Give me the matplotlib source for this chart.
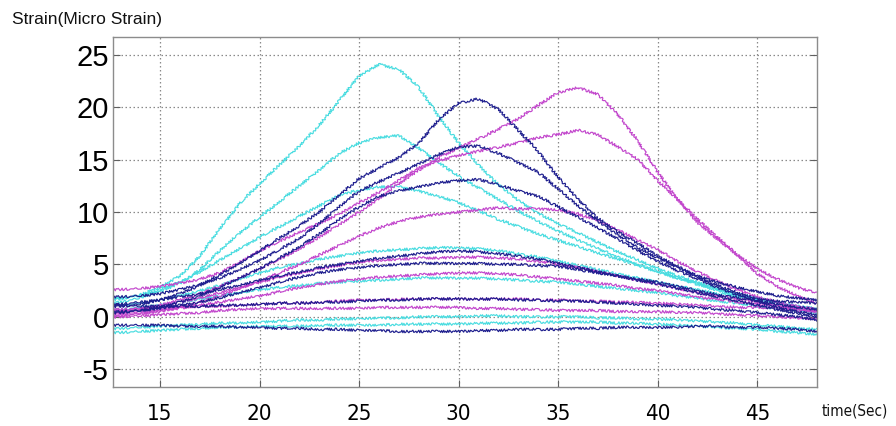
import matplotlib
matplotlib.use("Agg")
import matplotlib.pyplot as plt
from matplotlib import font_manager

# ---------------- data ----------------
TIME = [12, 13, 14, 15, 16, 17, 18, 19, 20, 21, 22, 23, 24, 25, 26, 27, 28, 29, 30,
        31, 32, 33, 34, 35, 36, 37, 38, 39, 40, 41, 42, 43, 44, 45, 46, 47, 48]

# cyan gauges
C1 = [1.5, 1.7, 2.1, 2.8, 3.9, 5.8, 8.4, 10.8, 12.7, 14.5, 16.3, 18.3, 20.6, 23.0, 24.1, 23.6, 21.9, 19.1, 16.6,
      14.5, 12.6, 11.1, 9.9, 8.9, 8.0, 7.1, 6.2, 5.4, 4.6, 3.9, 3.3, 2.7, 2.2, 1.8, 1.4, 1.0, 0.7]
C2 = [1.6, 1.8, 2.0, 2.4, 3.2, 4.5, 6.3, 8.0, 9.5, 11.0, 12.5, 14.0, 15.6, 16.6, 17.1, 17.3, 16.1, 14.7, 13.4,
      12.3, 11.2, 10.1, 9.1, 8.2, 7.3, 6.5, 5.7, 5.0, 4.3, 3.7, 3.1, 2.5, 2.0, 1.6, 1.2, 0.9, 0.6]
C3 = [1.2, 1.4, 1.8, 2.6, 3.3, 4.3, 5.4, 6.5, 7.6, 8.6, 9.6, 10.6, 11.6, 12.1, 12.4, 12.4, 12.0, 11.5, 10.9,
      10.1, 9.3, 8.6, 7.9, 7.3, 6.7, 6.1, 5.5, 4.9, 4.3, 3.7, 3.2, 2.6, 2.1, 1.6, 1.2, 0.9, 0.7]
C4 = [1.0, 1.1, 1.3, 1.6, 2.0, 2.5, 3.0, 3.6, 4.2, 4.7, 5.1, 5.5, 5.8, 6.1, 6.3, 6.4, 6.5, 6.6, 6.6,
      6.5, 6.3, 6.0, 5.7, 5.3, 4.9, 4.5, 4.1, 3.7, 3.3, 2.9, 2.6, 2.2, 1.9, 1.6, 1.3, 1.0, 0.8]
C5 = [0.6, 0.7, 0.9, 1.1, 1.4, 1.7, 2.0, 2.3, 2.6, 2.8, 3.0, 3.2, 3.3, 3.4, 3.5, 3.6, 3.7, 3.7, 3.7,
      3.7, 3.6, 3.5, 3.4, 3.3, 3.1, 2.9, 2.7, 2.5, 2.3, 2.0, 1.8, 1.5, 1.3, 1.0, 0.8, 0.6, 0.4]
C6 = [-1.2, -1.1, -1.0, -0.9, -0.8, -0.7, -0.6, -0.6, -0.5, -0.4, -0.3, -0.3, -0.2, -0.2, -0.1, -0.1, 0.0, 0.0, 0.0,
      0.1, 0.1, 0.0, 0.0, 0.0, 0.0, -0.1, -0.1, -0.2, -0.2, -0.3, -0.4, -0.5, -0.6, -0.8, -0.9, -1.1, -1.2]
C7 = [-1.5, -1.5, -1.4, -1.3, -1.2, -1.1, -1.0, -1.0, -0.9, -0.9, -0.9, -0.8, -0.8, -0.8, -0.8, -0.7, -0.7, -0.7, -0.7,
      -0.6, -0.6, -0.6, -0.5, -0.5, -0.5, -0.5, -0.6, -0.6, -0.7, -0.8, -0.9, -1.0, -1.1, -1.2, -1.4, -1.5, -1.7]

# navy gauges
N1 = [0.9, 1.0, 1.2, 1.6, 2.2, 3.0, 4.0, 5.1, 6.3, 7.5, 8.7, 10.0, 11.6, 13.2, 14.2, 15.2, 16.6, 18.8, 20.4,
      20.8, 19.8, 17.8, 15.8, 13.3, 11.2, 9.4, 8.1, 7.0, 5.8, 4.8, 3.8, 3.0, 2.3, 1.7, 1.5, 1.4, 1.3]
N2 = [1.9, 1.9, 2.0, 2.2, 2.6, 3.1, 3.7, 4.5, 5.4, 6.4, 7.5, 8.9, 10.5, 12.0, 12.9, 13.7, 14.6, 15.5, 16.2,
      16.3, 15.6, 14.7, 13.8, 12.2, 10.6, 9.1, 7.8, 6.6, 5.6, 4.7, 3.9, 3.3, 2.8, 2.4, 2.0, 1.8, 1.6]
N3 = [0.3, 0.4, 0.6, 0.9, 1.4, 2.0, 2.8, 3.7, 4.6, 5.6, 6.7, 7.9, 9.3, 10.5, 11.5, 12.0, 12.4, 12.8, 13.0,
      13.1, 12.6, 12.0, 11.5, 10.5, 9.5, 8.5, 7.4, 6.3, 5.3, 4.4, 3.6, 2.8, 2.1, 1.5, 0.9, 0.5, 0.2]
N4 = [1.1, 1.2, 1.4, 1.6, 1.9, 2.2, 2.6, 3.0, 3.5, 3.9, 4.3, 4.7, 5.0, 5.3, 5.6, 5.8, 6.0, 6.2, 6.3,
      6.2, 6.0, 5.8, 5.5, 5.1, 4.7, 4.3, 3.9, 3.5, 3.1, 2.7, 2.3, 1.9, 1.5, 1.1, 0.7, 0.3, 0.0]
N5 = [0.4, 0.5, 0.6, 0.8, 1.1, 1.4, 1.8, 2.3, 2.8, 3.3, 3.8, 4.2, 4.5, 4.7, 4.9, 5.0, 5.1, 5.1, 5.1,
      5.1, 5.0, 5.0, 4.9, 4.8, 4.5, 4.2, 3.9, 3.6, 3.3, 2.9, 2.5, 2.1, 1.8, 1.5, 1.2, 0.9, 0.7]
N6 = [1.1, 1.1, 1.0, 1.0, 1.0, 1.0, 1.1, 1.1, 1.2, 1.3, 1.3, 1.4, 1.4, 1.5, 1.6, 1.6, 1.7, 1.7, 1.7,
      1.7, 1.7, 1.6, 1.6, 1.5, 1.5, 1.4, 1.3, 1.2, 1.1, 1.0, 0.9, 0.7, 0.6, 0.4, 0.2, 0.0, -0.3]
N7 = [-0.8, -0.8, -0.8, -0.8, -0.9, -0.9, -0.9, -1.0, -1.0, -1.1, -1.1, -1.2, -1.2, -1.3, -1.3, -1.4, -1.4, -1.4, -1.4,
      -1.3, -1.3, -1.2, -1.2, -1.2, -1.1, -1.1, -1.0, -1.0, -1.0, -1.0, -0.9, -0.9, -1.0, -1.0, -1.1, -1.2, -1.4]

# magenta gauges
M1 = [0.2, 0.4, 0.7, 1.1, 1.6, 2.2, 2.9, 3.7, 4.6, 5.5, 6.5, 7.6, 8.8, 10.0, 11.3, 12.7, 14.0, 15.2, 16.1,
      17.0, 17.9, 18.9, 20.2, 21.4, 21.9, 21.2, 19.3, 16.8, 13.8, 11.2, 9.0, 7.4, 5.9, 4.6, 3.6, 2.8, 2.3]
M2 = [2.6, 2.6, 2.7, 2.9, 3.2, 3.6, 4.2, 5.2, 6.3, 7.2, 8.1, 8.9, 9.8, 10.9, 11.9, 13.0, 14.2, 14.9, 15.4,
      15.8, 16.2, 16.6, 17.1, 17.4, 17.8, 17.4, 16.2, 15.0, 13.0, 11.2, 9.3, 7.6, 5.9, 4.1, 2.9, 2.0, 1.3]
M3 = [0.0, 0.1, 0.3, 0.5, 0.9, 1.4, 2.0, 2.7, 3.4, 4.2, 5.0, 5.9, 6.8, 7.7, 8.5, 9.1, 9.5, 9.8, 10.0,
      10.2, 10.4, 10.3, 10.3, 10.2, 9.8, 9.2, 8.3, 7.3, 6.4, 5.3, 4.3, 3.4, 2.6, 1.9, 1.4, 1.0, 0.7]
M4 = [0.5, 0.6, 0.8, 1.0, 1.4, 1.8, 2.3, 2.8, 3.3, 3.8, 4.2, 4.6, 4.9, 5.2, 5.4, 5.5, 5.6, 5.6, 5.7,
      5.7, 5.6, 5.5, 5.3, 5.0, 4.7, 4.3, 3.9, 3.5, 3.1, 2.7, 2.3, 2.0, 1.7, 1.4, 1.1, 0.8, 0.6]
M5 = [0.2, 0.3, 0.4, 0.6, 0.8, 1.1, 1.4, 1.7, 2.0, 2.4, 2.8, 3.1, 3.4, 3.6, 3.8, 3.9, 4.0, 4.1, 4.2,
      4.2, 4.1, 4.0, 3.8, 3.6, 3.4, 3.2, 3.0, 2.7, 2.5, 2.2, 1.9, 1.7, 1.4, 1.2, 1.0, 0.8, 0.5]
M6 = [0.7, 0.7, 0.8, 0.8, 0.9, 1.0, 1.0, 1.1, 1.2, 1.3, 1.3, 1.4, 1.5, 1.6, 1.6, 1.7, 1.7, 1.7, 1.7,
      1.7, 1.7, 1.7, 1.6, 1.6, 1.5, 1.5, 1.4, 1.4, 1.3, 1.2, 1.1, 1.0, 0.9, 0.9, 0.8, 0.6, 0.5]
M7 = [-0.1, 0.0, 0.1, 0.2, 0.3, 0.4, 0.6, 0.7, 0.8, 0.8, 0.8, 0.8, 0.8, 0.8, 0.9, 0.9, 0.9, 0.9, 0.9,
      0.8, 0.8, 0.7, 0.7, 0.6, 0.6, 0.6, 0.5, 0.5, 0.5, 0.4, 0.4, 0.3, 0.2, 0.1, 0.0, -0.1, -0.2]

X_TICKS = [15, 20, 25, 30, 35, 40, 45]
Y_TICKS = [-5, 0, 5, 10, 15, 20, 25]
X_LABEL = "time(Sec)"
Y_LABEL = "Strain(Micro Strain)"

CYAN = "#48DCE0"
NAVY = "#1E1E8E"
MAGENTA = "#C246CC"

SERIES = [
    (C1, CYAN), (C2, CYAN), (C3, CYAN), (C4, CYAN), (C5, CYAN), (C6, CYAN), (C7, CYAN),
    (M1, MAGENTA), (M2, MAGENTA), (M3, MAGENTA), (M4, MAGENTA), (M5, MAGENTA), (M6, MAGENTA), (M7, MAGENTA),
    (N1, NAVY), (N2, NAVY), (N3, NAVY), (N4, NAVY), (N5, NAVY), (N6, NAVY), (N7, NAVY),
]

# pick a condensed face for the x tick labels if one is installed
_names = {f.name for f in font_manager.fontManager.ttflist}
_cond = [f for f in font_manager.fontManager.ttflist
         if f.name == "DejaVu Sans" and "ondensed" in f.fname and "Bold" not in f.fname
         and "Oblique" not in f.fname]
if "Liberation Sans Narrow" in _names:
    XT_FP = font_manager.FontProperties(family="Liberation Sans Narrow", size=17)
    XL_FP = font_manager.FontProperties(family="Liberation Sans Narrow", size=12)
elif _cond:
    XT_FP = font_manager.FontProperties(fname=_cond[0].fname, size=16)
    XL_FP = font_manager.FontProperties(fname=_cond[0].fname, size=11)
else:
    XT_FP = font_manager.FontProperties(family="Liberation Sans", size=16)
    XL_FP = font_manager.FontProperties(family="Liberation Sans", size=11)

# ---------------- figure ----------------
W, H = 896, 426
fig = plt.figure(figsize=(W / 100, H / 100), dpi=100)
fig.patch.set_facecolor("white")
ax = fig.add_axes([113 / W, 1 - 387 / H, (817 - 113) / W, (387 - 37) / H])

for vals, col in SERIES:
    ln, = ax.plot(TIME, vals, color=col, lw=0.85, solid_joinstyle="round")
    ln.set_sketch_params(scale=1.3, length=2.0, randomness=2.0)

ax.set_xlim(12.64, 48.0)
ax.set_ylim(-6.7, 26.7)
ax.set_xticks(X_TICKS)
ax.set_yticks(Y_TICKS)
ax.set_xticklabels([str(v) for v in X_TICKS], fontproperties=XT_FP)
ax.set_yticklabels([str(v) for v in Y_TICKS], family="Liberation Sans", fontsize=21)

ax.grid(True, color="#8a8a8a", linestyle=(0, (1.2, 2.0)), lw=0.9)
ax.set_axisbelow(True)
for sp in ax.spines.values():
    sp.set_color("#8c8c8c")
    sp.set_linewidth(1.0)
ax.tick_params(axis="both", direction="in", length=5, color="#606060", top=False, right=True)
ax.tick_params(axis="x", pad=12)
ax.tick_params(axis="y", pad=3)

fig.text(12 / W, 1 - 24 / H, Y_LABEL, family="Liberation Sans", fontsize=12.5,
         ha="left", va="baseline", color="#111111")
fig.text(822 / W, 1 - 415 / H, X_LABEL, fontproperties=XL_FP,
         ha="left", va="baseline", color="#111111")

fig.savefig("out.png", dpi=100, facecolor="white")
